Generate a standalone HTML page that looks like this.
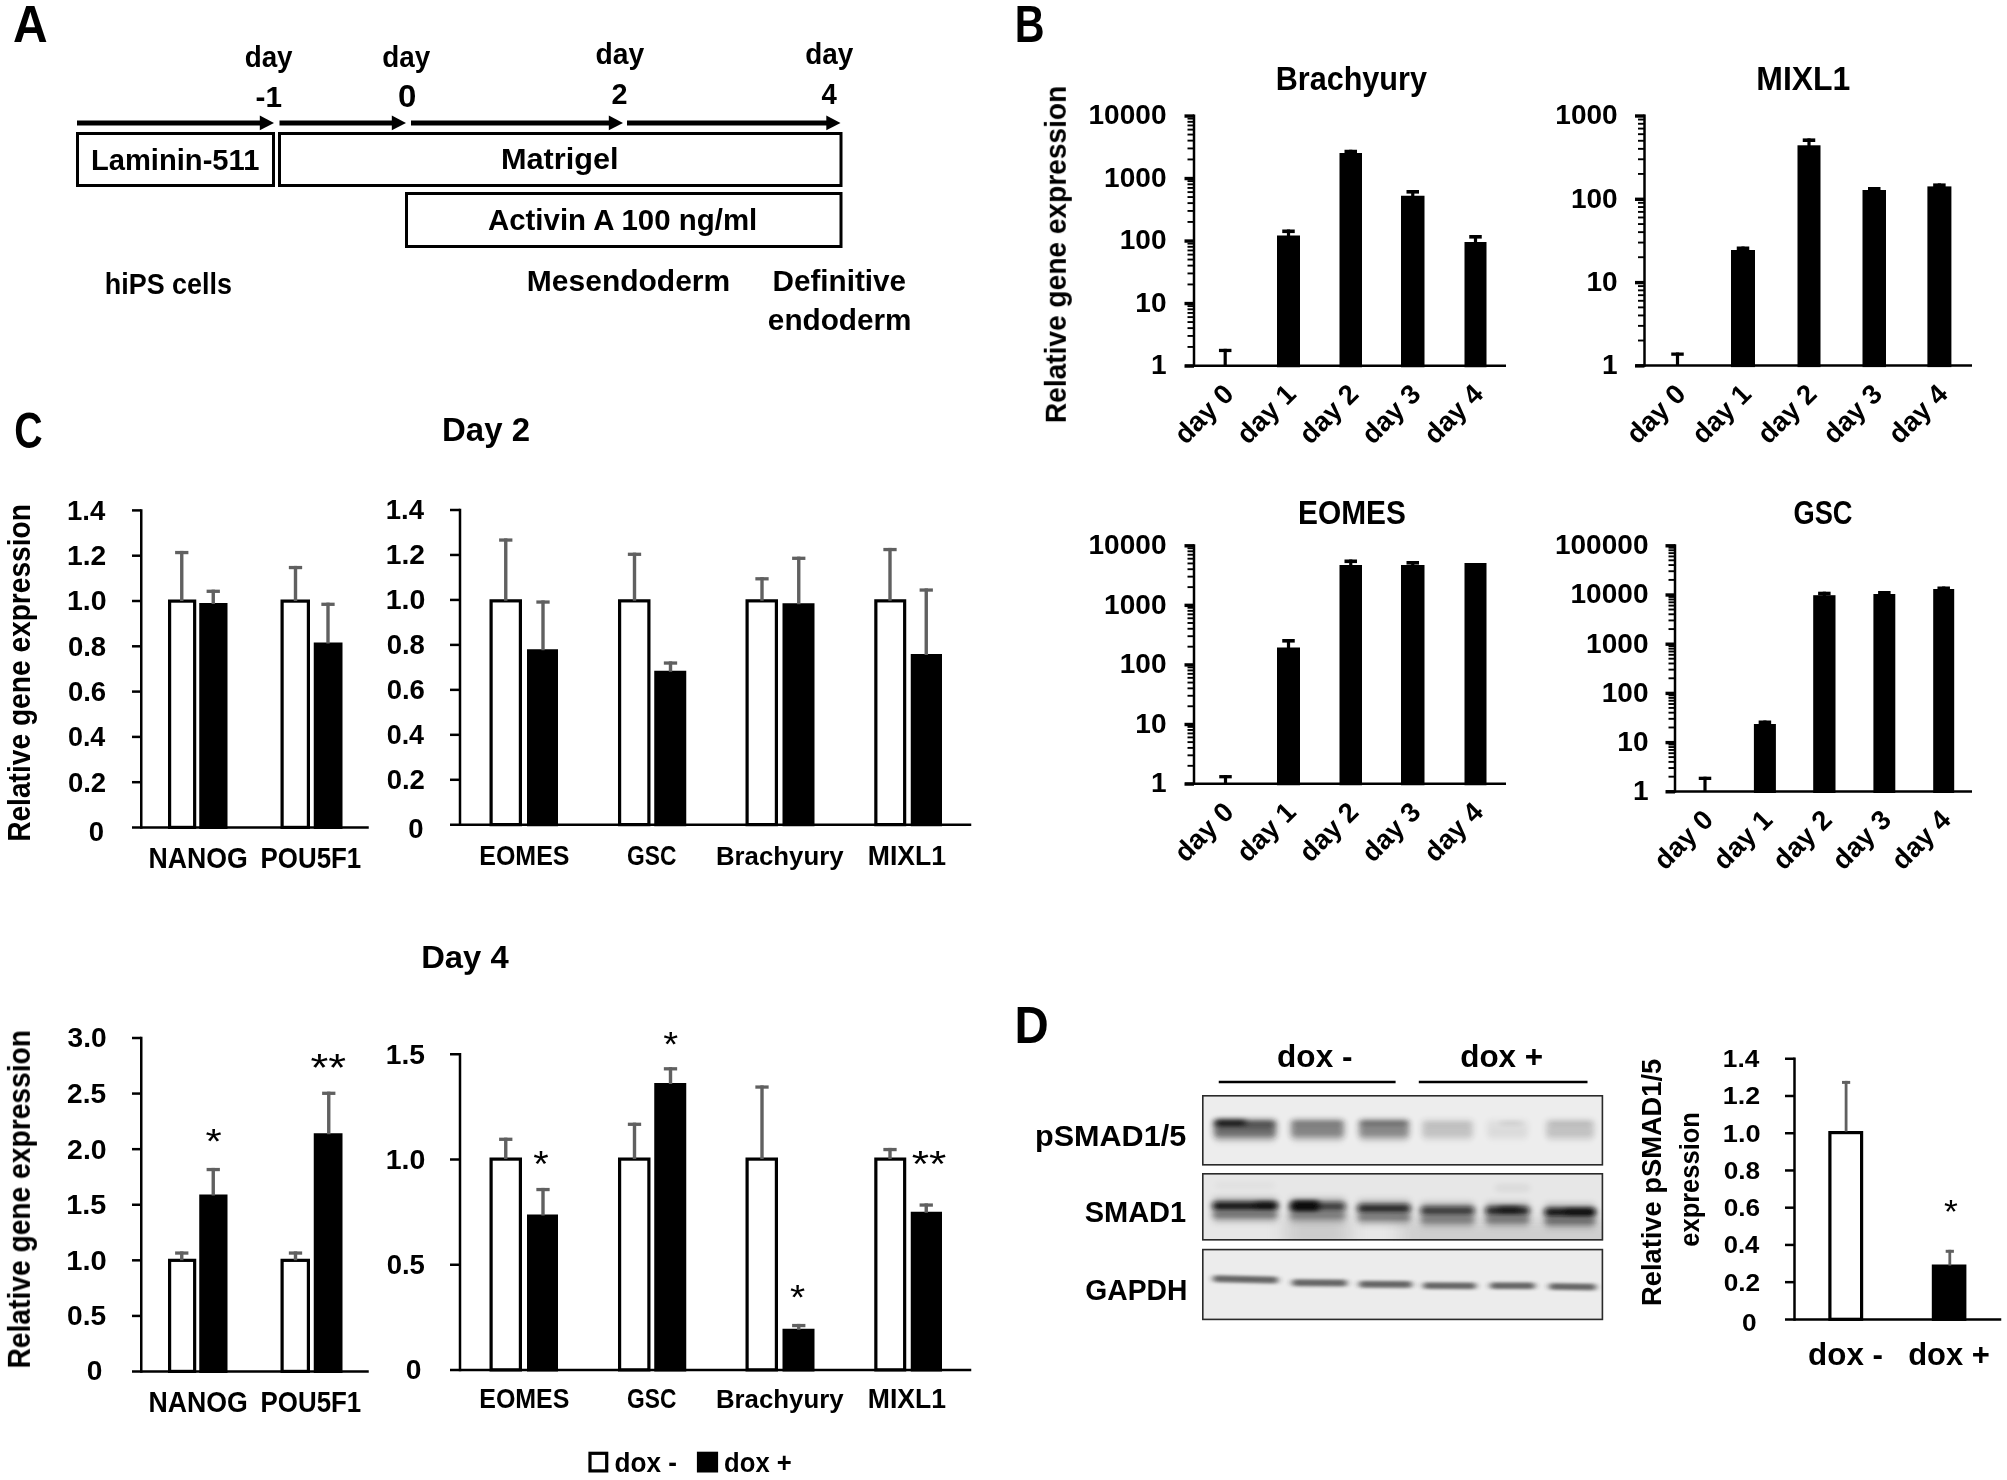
<!DOCTYPE html>
<html lang="en"><head><meta charset="utf-8"><title>Figure</title>
<style>
html,body{margin:0;padding:0;background:#fff;}
body{width:2007px;height:1480px;overflow:hidden;}
svg{display:block;}
text{font-family:"Liberation Sans", Arial, sans-serif;}
</style></head><body>
<svg width="2007" height="1480" viewBox="0 0 2007 1480">
<defs>
<filter id="b1" x="-20%" y="-100%" width="140%" height="300%"><feGaussianBlur stdDeviation="2.2 1.6"/></filter>
<filter id="b2" x="-20%" y="-100%" width="140%" height="300%"><feGaussianBlur stdDeviation="3 1.5"/></filter>
<filter id="b3" x="-20%" y="-100%" width="140%" height="300%"><feGaussianBlur stdDeviation="3 2.5"/></filter>
<filter id="b4" x="-30%" y="-150%" width="160%" height="400%"><feGaussianBlur stdDeviation="3.4 3"/></filter>
<filter id="soft" filterUnits="userSpaceOnUse" x="0" y="0" width="2007" height="1480"><feGaussianBlur stdDeviation="0.55"/></filter>
<filter id="b6" x="-50%" y="-100%" width="200%" height="300%"><feGaussianBlur stdDeviation="9 7"/></filter>
<filter id="b5" x="-30%" y="-150%" width="160%" height="400%"><feGaussianBlur stdDeviation="3.4 1.9"/></filter>
</defs>
<rect x="0" y="0" width="2007" height="1480" fill="#fff"/>
<g filter="url(#soft)">
<text transform="translate(12.95,41.70) scale(0.9349,1)" font-size="51.34" font-family='"Liberation Sans", Arial, sans-serif' font-weight="bold" fill="#000">A</text>
<text transform="translate(244.63,67.00) scale(0.9426,1)" font-size="29.55" font-family='"Liberation Sans", Arial, sans-serif' font-weight="bold" fill="#000">day</text>
<text transform="translate(382.23,67.00) scale(0.9426,1)" font-size="29.55" font-family='"Liberation Sans", Arial, sans-serif' font-weight="bold" fill="#000">day</text>
<text transform="translate(595.42,63.60) scale(0.9654,1)" font-size="29.28" font-family='"Liberation Sans", Arial, sans-serif' font-weight="bold" fill="#000">day</text>
<text transform="translate(805.23,63.60) scale(0.9534,1)" font-size="29.28" font-family='"Liberation Sans", Arial, sans-serif' font-weight="bold" fill="#000">day</text>
<text transform="translate(255.57,107.00) scale(0.9828,1)" font-size="30.29" font-family='"Liberation Sans", Arial, sans-serif' font-weight="bold" fill="#000">-1</text>
<text transform="translate(397.97,107.12) scale(1.0792,1)" font-size="30.61" font-family='"Liberation Sans", Arial, sans-serif' font-weight="bold" fill="#000">0</text>
<text transform="translate(611.50,103.50) scale(0.9830,1)" font-size="29.30" font-family='"Liberation Sans", Arial, sans-serif' font-weight="bold" fill="#000">2</text>
<text transform="translate(821.60,103.50) scale(0.9405,1)" font-size="29.30" font-family='"Liberation Sans", Arial, sans-serif' font-weight="bold" fill="#000">4</text>
<line x1="77.00" y1="122.90" x2="260.80" y2="122.90" stroke="#000" stroke-width="5.0" stroke-linecap="butt"/>
<polygon points="274.00,122.90 259.80,115.50 259.80,130.30" fill="#000"/>
<line x1="279.50" y1="122.90" x2="392.80" y2="122.90" stroke="#000" stroke-width="5.0" stroke-linecap="butt"/>
<polygon points="406.00,122.90 391.80,115.50 391.80,130.30" fill="#000"/>
<line x1="411.00" y1="122.90" x2="609.80" y2="122.90" stroke="#000" stroke-width="5.0" stroke-linecap="butt"/>
<polygon points="623.00,122.90 608.80,115.50 608.80,130.30" fill="#000"/>
<line x1="627.00" y1="122.90" x2="827.30" y2="122.90" stroke="#000" stroke-width="5.0" stroke-linecap="butt"/>
<polygon points="840.50,122.90 826.30,115.50 826.30,130.30" fill="#000"/>
<rect x="77.50" y="133.50" width="196.00" height="52.00" fill="#fff" stroke="#000" stroke-width="3"/>
<rect x="279.50" y="133.50" width="561.50" height="52.00" fill="#fff" stroke="#000" stroke-width="3"/>
<rect x="406.50" y="193.50" width="434.50" height="53.00" fill="#fff" stroke="#000" stroke-width="3"/>
<text transform="translate(90.88,169.50) scale(0.9779,1)" font-size="29.82" font-family='"Liberation Sans", Arial, sans-serif' font-weight="bold" fill="#000">Laminin-511</text>
<text transform="translate(500.98,169.00) scale(1.0519,1)" font-size="29.14" font-family='"Liberation Sans", Arial, sans-serif' font-weight="bold" fill="#000">Matrigel</text>
<text transform="translate(487.94,230.10) scale(0.9873,1)" font-size="29.82" font-family='"Liberation Sans", Arial, sans-serif' font-weight="bold" fill="#000">Activin A 100 ng/ml</text>
<text transform="translate(104.82,294.20) scale(0.9413,1)" font-size="28.60" font-family='"Liberation Sans", Arial, sans-serif' font-weight="bold" fill="#000">hiPS cells</text>
<text transform="translate(526.82,290.90) scale(1.0066,1)" font-size="29.82" font-family='"Liberation Sans", Arial, sans-serif' font-weight="bold" fill="#000">Mesendoderm</text>
<text transform="translate(772.44,290.90) scale(0.9961,1)" font-size="29.82" font-family='"Liberation Sans", Arial, sans-serif' font-weight="bold" fill="#000">Definitive</text>
<text transform="translate(767.87,330.30) scale(1.0252,1)" font-size="29.00" font-family='"Liberation Sans", Arial, sans-serif' font-weight="bold" fill="#000">endoderm</text>
<text transform="translate(1014.72,41.70) scale(0.8040,1)" font-size="51.34" font-family='"Liberation Sans", Arial, sans-serif' font-weight="bold" fill="#000">B</text>
<text transform="translate(1065.80,423.16) rotate(-90) scale(0.9258,1)" font-size="30.37" font-family='"Liberation Sans", Arial, sans-serif' font-weight="bold" fill="#000">Relative gene expression</text>
<rect x="1277.00" y="235.50" width="23.00" height="131.75" fill="#000"/>
<line x1="1288.50" y1="229.50" x2="1288.50" y2="236.50" stroke="#000" stroke-width="3.2" stroke-linecap="butt"/>
<line x1="1282.25" y1="231.30" x2="1294.75" y2="231.30" stroke="#000" stroke-width="3.6" stroke-linecap="butt"/>
<rect x="1339.50" y="153.00" width="22.50" height="214.25" fill="#000"/>
<line x1="1350.75" y1="149.75" x2="1350.75" y2="154.00" stroke="#000" stroke-width="3.2" stroke-linecap="butt"/>
<line x1="1344.50" y1="151.55" x2="1357.00" y2="151.55" stroke="#000" stroke-width="3.6" stroke-linecap="butt"/>
<rect x="1401.00" y="195.75" width="23.50" height="171.50" fill="#000"/>
<line x1="1412.75" y1="190.00" x2="1412.75" y2="196.75" stroke="#000" stroke-width="3.2" stroke-linecap="butt"/>
<line x1="1406.50" y1="191.80" x2="1419.00" y2="191.80" stroke="#000" stroke-width="3.6" stroke-linecap="butt"/>
<rect x="1464.50" y="242.00" width="22.00" height="125.25" fill="#000"/>
<line x1="1475.50" y1="235.00" x2="1475.50" y2="243.00" stroke="#000" stroke-width="3.2" stroke-linecap="butt"/>
<line x1="1469.25" y1="236.80" x2="1481.75" y2="236.80" stroke="#000" stroke-width="3.6" stroke-linecap="butt"/>
<line x1="1225.20" y1="348.80" x2="1225.20" y2="365.75" stroke="#000" stroke-width="3.2" stroke-linecap="butt"/>
<line x1="1218.95" y1="350.45" x2="1231.45" y2="350.45" stroke="#000" stroke-width="3.3" stroke-linecap="butt"/>
<line x1="1194.00" y1="114.50" x2="1194.00" y2="367.00" stroke="#000" stroke-width="2.5" stroke-linecap="butt"/>
<line x1="1185.00" y1="365.75" x2="1506.00" y2="365.75" stroke="#000" stroke-width="2.5" stroke-linecap="butt"/>
<line x1="1184.50" y1="116.05" x2="1194.00" y2="116.05" stroke="#000" stroke-width="3.4" stroke-linecap="butt"/>
<line x1="1187.50" y1="159.44" x2="1194.00" y2="159.44" stroke="#000" stroke-width="1.9" stroke-linecap="butt"/>
<line x1="1187.50" y1="148.43" x2="1194.00" y2="148.43" stroke="#000" stroke-width="1.9" stroke-linecap="butt"/>
<line x1="1187.50" y1="140.62" x2="1194.00" y2="140.62" stroke="#000" stroke-width="1.9" stroke-linecap="butt"/>
<line x1="1187.50" y1="134.56" x2="1194.00" y2="134.56" stroke="#000" stroke-width="1.9" stroke-linecap="butt"/>
<line x1="1187.50" y1="129.62" x2="1194.00" y2="129.62" stroke="#000" stroke-width="1.9" stroke-linecap="butt"/>
<line x1="1187.50" y1="125.43" x2="1194.00" y2="125.43" stroke="#000" stroke-width="1.9" stroke-linecap="butt"/>
<line x1="1187.50" y1="121.81" x2="1194.00" y2="121.81" stroke="#000" stroke-width="1.9" stroke-linecap="butt"/>
<line x1="1187.50" y1="118.61" x2="1194.00" y2="118.61" stroke="#000" stroke-width="1.9" stroke-linecap="butt"/>
<line x1="1184.50" y1="178.55" x2="1194.00" y2="178.55" stroke="#000" stroke-width="3.4" stroke-linecap="butt"/>
<line x1="1187.50" y1="221.94" x2="1194.00" y2="221.94" stroke="#000" stroke-width="1.9" stroke-linecap="butt"/>
<line x1="1187.50" y1="210.93" x2="1194.00" y2="210.93" stroke="#000" stroke-width="1.9" stroke-linecap="butt"/>
<line x1="1187.50" y1="203.12" x2="1194.00" y2="203.12" stroke="#000" stroke-width="1.9" stroke-linecap="butt"/>
<line x1="1187.50" y1="197.06" x2="1194.00" y2="197.06" stroke="#000" stroke-width="1.9" stroke-linecap="butt"/>
<line x1="1187.50" y1="192.12" x2="1194.00" y2="192.12" stroke="#000" stroke-width="1.9" stroke-linecap="butt"/>
<line x1="1187.50" y1="187.93" x2="1194.00" y2="187.93" stroke="#000" stroke-width="1.9" stroke-linecap="butt"/>
<line x1="1187.50" y1="184.31" x2="1194.00" y2="184.31" stroke="#000" stroke-width="1.9" stroke-linecap="butt"/>
<line x1="1187.50" y1="181.11" x2="1194.00" y2="181.11" stroke="#000" stroke-width="1.9" stroke-linecap="butt"/>
<line x1="1184.50" y1="241.05" x2="1194.00" y2="241.05" stroke="#000" stroke-width="3.4" stroke-linecap="butt"/>
<line x1="1187.50" y1="284.44" x2="1194.00" y2="284.44" stroke="#000" stroke-width="1.9" stroke-linecap="butt"/>
<line x1="1187.50" y1="273.43" x2="1194.00" y2="273.43" stroke="#000" stroke-width="1.9" stroke-linecap="butt"/>
<line x1="1187.50" y1="265.62" x2="1194.00" y2="265.62" stroke="#000" stroke-width="1.9" stroke-linecap="butt"/>
<line x1="1187.50" y1="259.56" x2="1194.00" y2="259.56" stroke="#000" stroke-width="1.9" stroke-linecap="butt"/>
<line x1="1187.50" y1="254.62" x2="1194.00" y2="254.62" stroke="#000" stroke-width="1.9" stroke-linecap="butt"/>
<line x1="1187.50" y1="250.43" x2="1194.00" y2="250.43" stroke="#000" stroke-width="1.9" stroke-linecap="butt"/>
<line x1="1187.50" y1="246.81" x2="1194.00" y2="246.81" stroke="#000" stroke-width="1.9" stroke-linecap="butt"/>
<line x1="1187.50" y1="243.61" x2="1194.00" y2="243.61" stroke="#000" stroke-width="1.9" stroke-linecap="butt"/>
<line x1="1184.50" y1="303.55" x2="1194.00" y2="303.55" stroke="#000" stroke-width="3.4" stroke-linecap="butt"/>
<line x1="1187.50" y1="346.94" x2="1194.00" y2="346.94" stroke="#000" stroke-width="1.9" stroke-linecap="butt"/>
<line x1="1187.50" y1="335.93" x2="1194.00" y2="335.93" stroke="#000" stroke-width="1.9" stroke-linecap="butt"/>
<line x1="1187.50" y1="328.12" x2="1194.00" y2="328.12" stroke="#000" stroke-width="1.9" stroke-linecap="butt"/>
<line x1="1187.50" y1="322.06" x2="1194.00" y2="322.06" stroke="#000" stroke-width="1.9" stroke-linecap="butt"/>
<line x1="1187.50" y1="317.12" x2="1194.00" y2="317.12" stroke="#000" stroke-width="1.9" stroke-linecap="butt"/>
<line x1="1187.50" y1="312.93" x2="1194.00" y2="312.93" stroke="#000" stroke-width="1.9" stroke-linecap="butt"/>
<line x1="1187.50" y1="309.31" x2="1194.00" y2="309.31" stroke="#000" stroke-width="1.9" stroke-linecap="butt"/>
<line x1="1187.50" y1="306.11" x2="1194.00" y2="306.11" stroke="#000" stroke-width="1.9" stroke-linecap="butt"/>
<line x1="1184.50" y1="366.05" x2="1194.00" y2="366.05" stroke="#000" stroke-width="3.4" stroke-linecap="butt"/>
<text transform="translate(1166.50,124.45) scale(1.0200,1)" font-size="27.50" text-anchor="end" font-family='"Liberation Sans", Arial, sans-serif' font-weight="bold" fill="#000">10000</text>
<text transform="translate(1166.50,186.95) scale(1.0200,1)" font-size="27.50" text-anchor="end" font-family='"Liberation Sans", Arial, sans-serif' font-weight="bold" fill="#000">1000</text>
<text transform="translate(1166.50,249.45) scale(1.0200,1)" font-size="27.50" text-anchor="end" font-family='"Liberation Sans", Arial, sans-serif' font-weight="bold" fill="#000">100</text>
<text transform="translate(1166.50,311.95) scale(1.0200,1)" font-size="27.50" text-anchor="end" font-family='"Liberation Sans", Arial, sans-serif' font-weight="bold" fill="#000">10</text>
<text transform="translate(1166.50,374.45) scale(1.0200,1)" font-size="27.50" text-anchor="end" font-family='"Liberation Sans", Arial, sans-serif' font-weight="bold" fill="#000">1</text>
<text transform="translate(1275.69,90.10) scale(0.9058,1)" font-size="33.77" font-family='"Liberation Sans", Arial, sans-serif' font-weight="bold" fill="#000">Brachyury</text>
<text transform="translate(1235.20,395.75) rotate(-45) scale(1.0000,1)" font-size="27.50" text-anchor="end" font-family='"Liberation Sans", Arial, sans-serif' font-weight="bold" fill="#000">day 0</text>
<text transform="translate(1297.60,395.75) rotate(-45) scale(1.0000,1)" font-size="27.50" text-anchor="end" font-family='"Liberation Sans", Arial, sans-serif' font-weight="bold" fill="#000">day 1</text>
<text transform="translate(1360.00,395.75) rotate(-45) scale(1.0000,1)" font-size="27.50" text-anchor="end" font-family='"Liberation Sans", Arial, sans-serif' font-weight="bold" fill="#000">day 2</text>
<text transform="translate(1422.40,395.75) rotate(-45) scale(1.0000,1)" font-size="27.50" text-anchor="end" font-family='"Liberation Sans", Arial, sans-serif' font-weight="bold" fill="#000">day 3</text>
<text transform="translate(1484.80,395.75) rotate(-45) scale(1.0000,1)" font-size="27.50" text-anchor="end" font-family='"Liberation Sans", Arial, sans-serif' font-weight="bold" fill="#000">day 4</text>
<rect x="1731.00" y="250.00" width="24.00" height="117.10" fill="#000"/>
<line x1="1743.00" y1="246.50" x2="1743.00" y2="251.00" stroke="#000" stroke-width="3.2" stroke-linecap="butt"/>
<line x1="1736.75" y1="248.30" x2="1749.25" y2="248.30" stroke="#000" stroke-width="3.6" stroke-linecap="butt"/>
<rect x="1797.50" y="145.30" width="23.00" height="221.80" fill="#000"/>
<line x1="1809.00" y1="138.40" x2="1809.00" y2="146.30" stroke="#000" stroke-width="3.2" stroke-linecap="butt"/>
<line x1="1802.75" y1="140.20" x2="1815.25" y2="140.20" stroke="#000" stroke-width="3.6" stroke-linecap="butt"/>
<rect x="1862.50" y="190.00" width="23.50" height="177.10" fill="#000"/>
<line x1="1874.25" y1="187.00" x2="1874.25" y2="191.00" stroke="#000" stroke-width="3.2" stroke-linecap="butt"/>
<line x1="1868.00" y1="188.80" x2="1880.50" y2="188.80" stroke="#000" stroke-width="3.6" stroke-linecap="butt"/>
<rect x="1927.40" y="186.40" width="24.00" height="180.70" fill="#000"/>
<line x1="1939.40" y1="183.40" x2="1939.40" y2="187.40" stroke="#000" stroke-width="3.2" stroke-linecap="butt"/>
<line x1="1933.15" y1="185.20" x2="1945.65" y2="185.20" stroke="#000" stroke-width="3.6" stroke-linecap="butt"/>
<line x1="1677.50" y1="352.50" x2="1677.50" y2="365.60" stroke="#000" stroke-width="3.2" stroke-linecap="butt"/>
<line x1="1671.25" y1="354.15" x2="1683.75" y2="354.15" stroke="#000" stroke-width="3.3" stroke-linecap="butt"/>
<line x1="1644.50" y1="114.45" x2="1644.50" y2="366.85" stroke="#000" stroke-width="2.5" stroke-linecap="butt"/>
<line x1="1635.50" y1="365.60" x2="1972.00" y2="365.60" stroke="#000" stroke-width="2.5" stroke-linecap="butt"/>
<line x1="1635.00" y1="116.00" x2="1644.50" y2="116.00" stroke="#000" stroke-width="3.4" stroke-linecap="butt"/>
<line x1="1638.00" y1="173.92" x2="1644.50" y2="173.92" stroke="#000" stroke-width="1.9" stroke-linecap="butt"/>
<line x1="1638.00" y1="159.26" x2="1644.50" y2="159.26" stroke="#000" stroke-width="1.9" stroke-linecap="butt"/>
<line x1="1638.00" y1="148.85" x2="1644.50" y2="148.85" stroke="#000" stroke-width="1.9" stroke-linecap="butt"/>
<line x1="1638.00" y1="140.78" x2="1644.50" y2="140.78" stroke="#000" stroke-width="1.9" stroke-linecap="butt"/>
<line x1="1638.00" y1="134.18" x2="1644.50" y2="134.18" stroke="#000" stroke-width="1.9" stroke-linecap="butt"/>
<line x1="1638.00" y1="128.60" x2="1644.50" y2="128.60" stroke="#000" stroke-width="1.9" stroke-linecap="butt"/>
<line x1="1638.00" y1="123.77" x2="1644.50" y2="123.77" stroke="#000" stroke-width="1.9" stroke-linecap="butt"/>
<line x1="1638.00" y1="119.51" x2="1644.50" y2="119.51" stroke="#000" stroke-width="1.9" stroke-linecap="butt"/>
<line x1="1635.00" y1="199.30" x2="1644.50" y2="199.30" stroke="#000" stroke-width="3.4" stroke-linecap="butt"/>
<line x1="1638.00" y1="257.22" x2="1644.50" y2="257.22" stroke="#000" stroke-width="1.9" stroke-linecap="butt"/>
<line x1="1638.00" y1="242.56" x2="1644.50" y2="242.56" stroke="#000" stroke-width="1.9" stroke-linecap="butt"/>
<line x1="1638.00" y1="232.15" x2="1644.50" y2="232.15" stroke="#000" stroke-width="1.9" stroke-linecap="butt"/>
<line x1="1638.00" y1="224.08" x2="1644.50" y2="224.08" stroke="#000" stroke-width="1.9" stroke-linecap="butt"/>
<line x1="1638.00" y1="217.48" x2="1644.50" y2="217.48" stroke="#000" stroke-width="1.9" stroke-linecap="butt"/>
<line x1="1638.00" y1="211.90" x2="1644.50" y2="211.90" stroke="#000" stroke-width="1.9" stroke-linecap="butt"/>
<line x1="1638.00" y1="207.07" x2="1644.50" y2="207.07" stroke="#000" stroke-width="1.9" stroke-linecap="butt"/>
<line x1="1638.00" y1="202.81" x2="1644.50" y2="202.81" stroke="#000" stroke-width="1.9" stroke-linecap="butt"/>
<line x1="1635.00" y1="282.60" x2="1644.50" y2="282.60" stroke="#000" stroke-width="3.4" stroke-linecap="butt"/>
<line x1="1638.00" y1="340.52" x2="1644.50" y2="340.52" stroke="#000" stroke-width="1.9" stroke-linecap="butt"/>
<line x1="1638.00" y1="325.86" x2="1644.50" y2="325.86" stroke="#000" stroke-width="1.9" stroke-linecap="butt"/>
<line x1="1638.00" y1="315.45" x2="1644.50" y2="315.45" stroke="#000" stroke-width="1.9" stroke-linecap="butt"/>
<line x1="1638.00" y1="307.38" x2="1644.50" y2="307.38" stroke="#000" stroke-width="1.9" stroke-linecap="butt"/>
<line x1="1638.00" y1="300.78" x2="1644.50" y2="300.78" stroke="#000" stroke-width="1.9" stroke-linecap="butt"/>
<line x1="1638.00" y1="295.20" x2="1644.50" y2="295.20" stroke="#000" stroke-width="1.9" stroke-linecap="butt"/>
<line x1="1638.00" y1="290.37" x2="1644.50" y2="290.37" stroke="#000" stroke-width="1.9" stroke-linecap="butt"/>
<line x1="1638.00" y1="286.11" x2="1644.50" y2="286.11" stroke="#000" stroke-width="1.9" stroke-linecap="butt"/>
<line x1="1635.00" y1="365.90" x2="1644.50" y2="365.90" stroke="#000" stroke-width="3.4" stroke-linecap="butt"/>
<text transform="translate(1617.70,124.40) scale(1.0200,1)" font-size="27.50" text-anchor="end" font-family='"Liberation Sans", Arial, sans-serif' font-weight="bold" fill="#000">1000</text>
<text transform="translate(1617.70,207.70) scale(1.0200,1)" font-size="27.50" text-anchor="end" font-family='"Liberation Sans", Arial, sans-serif' font-weight="bold" fill="#000">100</text>
<text transform="translate(1617.70,291.00) scale(1.0200,1)" font-size="27.50" text-anchor="end" font-family='"Liberation Sans", Arial, sans-serif' font-weight="bold" fill="#000">10</text>
<text transform="translate(1617.70,374.30) scale(1.0200,1)" font-size="27.50" text-anchor="end" font-family='"Liberation Sans", Arial, sans-serif' font-weight="bold" fill="#000">1</text>
<text transform="translate(1756.30,90.20) scale(0.9560,1)" font-size="33.42" font-family='"Liberation Sans", Arial, sans-serif' font-weight="bold" fill="#000">MIXL1</text>
<text transform="translate(1687.25,395.60) rotate(-45) scale(1.0000,1)" font-size="27.50" text-anchor="end" font-family='"Liberation Sans", Arial, sans-serif' font-weight="bold" fill="#000">day 0</text>
<text transform="translate(1752.75,395.60) rotate(-45) scale(1.0000,1)" font-size="27.50" text-anchor="end" font-family='"Liberation Sans", Arial, sans-serif' font-weight="bold" fill="#000">day 1</text>
<text transform="translate(1818.25,395.60) rotate(-45) scale(1.0000,1)" font-size="27.50" text-anchor="end" font-family='"Liberation Sans", Arial, sans-serif' font-weight="bold" fill="#000">day 2</text>
<text transform="translate(1883.75,395.60) rotate(-45) scale(1.0000,1)" font-size="27.50" text-anchor="end" font-family='"Liberation Sans", Arial, sans-serif' font-weight="bold" fill="#000">day 3</text>
<text transform="translate(1949.25,395.60) rotate(-45) scale(1.0000,1)" font-size="27.50" text-anchor="end" font-family='"Liberation Sans", Arial, sans-serif' font-weight="bold" fill="#000">day 4</text>
<rect x="1277.00" y="647.50" width="23.00" height="137.75" fill="#000"/>
<line x1="1288.50" y1="639.00" x2="1288.50" y2="648.50" stroke="#000" stroke-width="3.2" stroke-linecap="butt"/>
<line x1="1282.25" y1="640.80" x2="1294.75" y2="640.80" stroke="#000" stroke-width="3.6" stroke-linecap="butt"/>
<rect x="1339.50" y="565.00" width="22.50" height="220.25" fill="#000"/>
<line x1="1350.75" y1="559.50" x2="1350.75" y2="566.00" stroke="#000" stroke-width="3.2" stroke-linecap="butt"/>
<line x1="1344.50" y1="561.30" x2="1357.00" y2="561.30" stroke="#000" stroke-width="3.6" stroke-linecap="butt"/>
<rect x="1401.00" y="565.00" width="23.50" height="220.25" fill="#000"/>
<line x1="1412.75" y1="561.00" x2="1412.75" y2="566.00" stroke="#000" stroke-width="3.2" stroke-linecap="butt"/>
<line x1="1406.50" y1="562.80" x2="1419.00" y2="562.80" stroke="#000" stroke-width="3.6" stroke-linecap="butt"/>
<rect x="1464.50" y="563.00" width="22.00" height="222.25" fill="#000"/>
<line x1="1225.50" y1="775.05" x2="1225.50" y2="783.75" stroke="#000" stroke-width="3.2" stroke-linecap="butt"/>
<line x1="1219.25" y1="776.70" x2="1231.75" y2="776.70" stroke="#000" stroke-width="3.3" stroke-linecap="butt"/>
<line x1="1194.00" y1="544.25" x2="1194.00" y2="785.00" stroke="#000" stroke-width="2.5" stroke-linecap="butt"/>
<line x1="1185.00" y1="783.75" x2="1506.00" y2="783.75" stroke="#000" stroke-width="2.5" stroke-linecap="butt"/>
<line x1="1184.50" y1="545.80" x2="1194.00" y2="545.80" stroke="#000" stroke-width="3.4" stroke-linecap="butt"/>
<line x1="1187.50" y1="587.13" x2="1194.00" y2="587.13" stroke="#000" stroke-width="1.9" stroke-linecap="butt"/>
<line x1="1187.50" y1="576.64" x2="1194.00" y2="576.64" stroke="#000" stroke-width="1.9" stroke-linecap="butt"/>
<line x1="1187.50" y1="569.20" x2="1194.00" y2="569.20" stroke="#000" stroke-width="1.9" stroke-linecap="butt"/>
<line x1="1187.50" y1="563.43" x2="1194.00" y2="563.43" stroke="#000" stroke-width="1.9" stroke-linecap="butt"/>
<line x1="1187.50" y1="558.71" x2="1194.00" y2="558.71" stroke="#000" stroke-width="1.9" stroke-linecap="butt"/>
<line x1="1187.50" y1="554.73" x2="1194.00" y2="554.73" stroke="#000" stroke-width="1.9" stroke-linecap="butt"/>
<line x1="1187.50" y1="551.27" x2="1194.00" y2="551.27" stroke="#000" stroke-width="1.9" stroke-linecap="butt"/>
<line x1="1187.50" y1="548.23" x2="1194.00" y2="548.23" stroke="#000" stroke-width="1.9" stroke-linecap="butt"/>
<line x1="1184.50" y1="605.36" x2="1194.00" y2="605.36" stroke="#000" stroke-width="3.4" stroke-linecap="butt"/>
<line x1="1187.50" y1="646.69" x2="1194.00" y2="646.69" stroke="#000" stroke-width="1.9" stroke-linecap="butt"/>
<line x1="1187.50" y1="636.21" x2="1194.00" y2="636.21" stroke="#000" stroke-width="1.9" stroke-linecap="butt"/>
<line x1="1187.50" y1="628.76" x2="1194.00" y2="628.76" stroke="#000" stroke-width="1.9" stroke-linecap="butt"/>
<line x1="1187.50" y1="622.99" x2="1194.00" y2="622.99" stroke="#000" stroke-width="1.9" stroke-linecap="butt"/>
<line x1="1187.50" y1="618.28" x2="1194.00" y2="618.28" stroke="#000" stroke-width="1.9" stroke-linecap="butt"/>
<line x1="1187.50" y1="614.29" x2="1194.00" y2="614.29" stroke="#000" stroke-width="1.9" stroke-linecap="butt"/>
<line x1="1187.50" y1="610.83" x2="1194.00" y2="610.83" stroke="#000" stroke-width="1.9" stroke-linecap="butt"/>
<line x1="1187.50" y1="607.79" x2="1194.00" y2="607.79" stroke="#000" stroke-width="1.9" stroke-linecap="butt"/>
<line x1="1184.50" y1="664.92" x2="1194.00" y2="664.92" stroke="#000" stroke-width="3.4" stroke-linecap="butt"/>
<line x1="1187.50" y1="706.26" x2="1194.00" y2="706.26" stroke="#000" stroke-width="1.9" stroke-linecap="butt"/>
<line x1="1187.50" y1="695.77" x2="1194.00" y2="695.77" stroke="#000" stroke-width="1.9" stroke-linecap="butt"/>
<line x1="1187.50" y1="688.33" x2="1194.00" y2="688.33" stroke="#000" stroke-width="1.9" stroke-linecap="butt"/>
<line x1="1187.50" y1="682.56" x2="1194.00" y2="682.56" stroke="#000" stroke-width="1.9" stroke-linecap="butt"/>
<line x1="1187.50" y1="677.84" x2="1194.00" y2="677.84" stroke="#000" stroke-width="1.9" stroke-linecap="butt"/>
<line x1="1187.50" y1="673.85" x2="1194.00" y2="673.85" stroke="#000" stroke-width="1.9" stroke-linecap="butt"/>
<line x1="1187.50" y1="670.40" x2="1194.00" y2="670.40" stroke="#000" stroke-width="1.9" stroke-linecap="butt"/>
<line x1="1187.50" y1="667.35" x2="1194.00" y2="667.35" stroke="#000" stroke-width="1.9" stroke-linecap="butt"/>
<line x1="1184.50" y1="724.49" x2="1194.00" y2="724.49" stroke="#000" stroke-width="3.4" stroke-linecap="butt"/>
<line x1="1187.50" y1="765.82" x2="1194.00" y2="765.82" stroke="#000" stroke-width="1.9" stroke-linecap="butt"/>
<line x1="1187.50" y1="755.33" x2="1194.00" y2="755.33" stroke="#000" stroke-width="1.9" stroke-linecap="butt"/>
<line x1="1187.50" y1="747.89" x2="1194.00" y2="747.89" stroke="#000" stroke-width="1.9" stroke-linecap="butt"/>
<line x1="1187.50" y1="742.12" x2="1194.00" y2="742.12" stroke="#000" stroke-width="1.9" stroke-linecap="butt"/>
<line x1="1187.50" y1="737.40" x2="1194.00" y2="737.40" stroke="#000" stroke-width="1.9" stroke-linecap="butt"/>
<line x1="1187.50" y1="733.41" x2="1194.00" y2="733.41" stroke="#000" stroke-width="1.9" stroke-linecap="butt"/>
<line x1="1187.50" y1="729.96" x2="1194.00" y2="729.96" stroke="#000" stroke-width="1.9" stroke-linecap="butt"/>
<line x1="1187.50" y1="726.91" x2="1194.00" y2="726.91" stroke="#000" stroke-width="1.9" stroke-linecap="butt"/>
<line x1="1184.50" y1="784.05" x2="1194.00" y2="784.05" stroke="#000" stroke-width="3.4" stroke-linecap="butt"/>
<text transform="translate(1166.50,554.20) scale(1.0200,1)" font-size="27.50" text-anchor="end" font-family='"Liberation Sans", Arial, sans-serif' font-weight="bold" fill="#000">10000</text>
<text transform="translate(1166.50,613.76) scale(1.0200,1)" font-size="27.50" text-anchor="end" font-family='"Liberation Sans", Arial, sans-serif' font-weight="bold" fill="#000">1000</text>
<text transform="translate(1166.50,673.33) scale(1.0200,1)" font-size="27.50" text-anchor="end" font-family='"Liberation Sans", Arial, sans-serif' font-weight="bold" fill="#000">100</text>
<text transform="translate(1166.50,732.89) scale(1.0200,1)" font-size="27.50" text-anchor="end" font-family='"Liberation Sans", Arial, sans-serif' font-weight="bold" fill="#000">10</text>
<text transform="translate(1166.50,792.45) scale(1.0200,1)" font-size="27.50" text-anchor="end" font-family='"Liberation Sans", Arial, sans-serif' font-weight="bold" fill="#000">1</text>
<text transform="translate(1298.03,523.80) scale(0.9089,1)" font-size="32.85" font-family='"Liberation Sans", Arial, sans-serif' font-weight="bold" fill="#000">EOMES</text>
<text transform="translate(1235.20,813.75) rotate(-45) scale(1.0000,1)" font-size="27.50" text-anchor="end" font-family='"Liberation Sans", Arial, sans-serif' font-weight="bold" fill="#000">day 0</text>
<text transform="translate(1297.60,813.75) rotate(-45) scale(1.0000,1)" font-size="27.50" text-anchor="end" font-family='"Liberation Sans", Arial, sans-serif' font-weight="bold" fill="#000">day 1</text>
<text transform="translate(1360.00,813.75) rotate(-45) scale(1.0000,1)" font-size="27.50" text-anchor="end" font-family='"Liberation Sans", Arial, sans-serif' font-weight="bold" fill="#000">day 2</text>
<text transform="translate(1422.40,813.75) rotate(-45) scale(1.0000,1)" font-size="27.50" text-anchor="end" font-family='"Liberation Sans", Arial, sans-serif' font-weight="bold" fill="#000">day 3</text>
<text transform="translate(1484.80,813.75) rotate(-45) scale(1.0000,1)" font-size="27.50" text-anchor="end" font-family='"Liberation Sans", Arial, sans-serif' font-weight="bold" fill="#000">day 4</text>
<rect x="1753.90" y="724.00" width="22.00" height="69.00" fill="#000"/>
<line x1="1764.90" y1="720.50" x2="1764.90" y2="725.00" stroke="#000" stroke-width="3.2" stroke-linecap="butt"/>
<line x1="1758.65" y1="722.30" x2="1771.15" y2="722.30" stroke="#000" stroke-width="3.6" stroke-linecap="butt"/>
<rect x="1813.20" y="595.20" width="22.30" height="197.80" fill="#000"/>
<line x1="1824.35" y1="591.70" x2="1824.35" y2="596.20" stroke="#000" stroke-width="3.2" stroke-linecap="butt"/>
<line x1="1818.10" y1="593.50" x2="1830.60" y2="593.50" stroke="#000" stroke-width="3.6" stroke-linecap="butt"/>
<rect x="1873.40" y="594.00" width="21.90" height="199.00" fill="#000"/>
<line x1="1884.35" y1="591.00" x2="1884.35" y2="595.00" stroke="#000" stroke-width="3.2" stroke-linecap="butt"/>
<line x1="1878.10" y1="592.80" x2="1890.60" y2="592.80" stroke="#000" stroke-width="3.6" stroke-linecap="butt"/>
<rect x="1933.20" y="589.00" width="21.00" height="204.00" fill="#000"/>
<line x1="1943.70" y1="586.50" x2="1943.70" y2="590.00" stroke="#000" stroke-width="3.2" stroke-linecap="butt"/>
<line x1="1937.45" y1="588.30" x2="1949.95" y2="588.30" stroke="#000" stroke-width="3.6" stroke-linecap="butt"/>
<line x1="1705.00" y1="776.70" x2="1705.00" y2="791.50" stroke="#000" stroke-width="3.2" stroke-linecap="butt"/>
<line x1="1698.75" y1="778.35" x2="1711.25" y2="778.35" stroke="#000" stroke-width="3.3" stroke-linecap="butt"/>
<line x1="1675.00" y1="544.25" x2="1675.00" y2="792.75" stroke="#000" stroke-width="2.5" stroke-linecap="butt"/>
<line x1="1666.00" y1="791.50" x2="1972.00" y2="791.50" stroke="#000" stroke-width="2.5" stroke-linecap="butt"/>
<line x1="1665.50" y1="545.80" x2="1675.00" y2="545.80" stroke="#000" stroke-width="3.4" stroke-linecap="butt"/>
<line x1="1668.50" y1="579.89" x2="1675.00" y2="579.89" stroke="#000" stroke-width="1.9" stroke-linecap="butt"/>
<line x1="1668.50" y1="571.23" x2="1675.00" y2="571.23" stroke="#000" stroke-width="1.9" stroke-linecap="butt"/>
<line x1="1668.50" y1="565.08" x2="1675.00" y2="565.08" stroke="#000" stroke-width="1.9" stroke-linecap="butt"/>
<line x1="1668.50" y1="560.31" x2="1675.00" y2="560.31" stroke="#000" stroke-width="1.9" stroke-linecap="butt"/>
<line x1="1668.50" y1="556.41" x2="1675.00" y2="556.41" stroke="#000" stroke-width="1.9" stroke-linecap="butt"/>
<line x1="1668.50" y1="553.12" x2="1675.00" y2="553.12" stroke="#000" stroke-width="1.9" stroke-linecap="butt"/>
<line x1="1668.50" y1="550.27" x2="1675.00" y2="550.27" stroke="#000" stroke-width="1.9" stroke-linecap="butt"/>
<line x1="1668.50" y1="547.75" x2="1675.00" y2="547.75" stroke="#000" stroke-width="1.9" stroke-linecap="butt"/>
<line x1="1665.50" y1="595.00" x2="1675.00" y2="595.00" stroke="#000" stroke-width="3.4" stroke-linecap="butt"/>
<line x1="1668.50" y1="629.09" x2="1675.00" y2="629.09" stroke="#000" stroke-width="1.9" stroke-linecap="butt"/>
<line x1="1668.50" y1="620.43" x2="1675.00" y2="620.43" stroke="#000" stroke-width="1.9" stroke-linecap="butt"/>
<line x1="1668.50" y1="614.28" x2="1675.00" y2="614.28" stroke="#000" stroke-width="1.9" stroke-linecap="butt"/>
<line x1="1668.50" y1="609.51" x2="1675.00" y2="609.51" stroke="#000" stroke-width="1.9" stroke-linecap="butt"/>
<line x1="1668.50" y1="605.61" x2="1675.00" y2="605.61" stroke="#000" stroke-width="1.9" stroke-linecap="butt"/>
<line x1="1668.50" y1="602.32" x2="1675.00" y2="602.32" stroke="#000" stroke-width="1.9" stroke-linecap="butt"/>
<line x1="1668.50" y1="599.47" x2="1675.00" y2="599.47" stroke="#000" stroke-width="1.9" stroke-linecap="butt"/>
<line x1="1668.50" y1="596.95" x2="1675.00" y2="596.95" stroke="#000" stroke-width="1.9" stroke-linecap="butt"/>
<line x1="1665.50" y1="644.20" x2="1675.00" y2="644.20" stroke="#000" stroke-width="3.4" stroke-linecap="butt"/>
<line x1="1668.50" y1="678.29" x2="1675.00" y2="678.29" stroke="#000" stroke-width="1.9" stroke-linecap="butt"/>
<line x1="1668.50" y1="669.63" x2="1675.00" y2="669.63" stroke="#000" stroke-width="1.9" stroke-linecap="butt"/>
<line x1="1668.50" y1="663.48" x2="1675.00" y2="663.48" stroke="#000" stroke-width="1.9" stroke-linecap="butt"/>
<line x1="1668.50" y1="658.71" x2="1675.00" y2="658.71" stroke="#000" stroke-width="1.9" stroke-linecap="butt"/>
<line x1="1668.50" y1="654.81" x2="1675.00" y2="654.81" stroke="#000" stroke-width="1.9" stroke-linecap="butt"/>
<line x1="1668.50" y1="651.52" x2="1675.00" y2="651.52" stroke="#000" stroke-width="1.9" stroke-linecap="butt"/>
<line x1="1668.50" y1="648.67" x2="1675.00" y2="648.67" stroke="#000" stroke-width="1.9" stroke-linecap="butt"/>
<line x1="1668.50" y1="646.15" x2="1675.00" y2="646.15" stroke="#000" stroke-width="1.9" stroke-linecap="butt"/>
<line x1="1665.50" y1="693.40" x2="1675.00" y2="693.40" stroke="#000" stroke-width="3.4" stroke-linecap="butt"/>
<line x1="1668.50" y1="727.49" x2="1675.00" y2="727.49" stroke="#000" stroke-width="1.9" stroke-linecap="butt"/>
<line x1="1668.50" y1="718.83" x2="1675.00" y2="718.83" stroke="#000" stroke-width="1.9" stroke-linecap="butt"/>
<line x1="1668.50" y1="712.68" x2="1675.00" y2="712.68" stroke="#000" stroke-width="1.9" stroke-linecap="butt"/>
<line x1="1668.50" y1="707.91" x2="1675.00" y2="707.91" stroke="#000" stroke-width="1.9" stroke-linecap="butt"/>
<line x1="1668.50" y1="704.01" x2="1675.00" y2="704.01" stroke="#000" stroke-width="1.9" stroke-linecap="butt"/>
<line x1="1668.50" y1="700.72" x2="1675.00" y2="700.72" stroke="#000" stroke-width="1.9" stroke-linecap="butt"/>
<line x1="1668.50" y1="697.87" x2="1675.00" y2="697.87" stroke="#000" stroke-width="1.9" stroke-linecap="butt"/>
<line x1="1668.50" y1="695.35" x2="1675.00" y2="695.35" stroke="#000" stroke-width="1.9" stroke-linecap="butt"/>
<line x1="1665.50" y1="742.60" x2="1675.00" y2="742.60" stroke="#000" stroke-width="3.4" stroke-linecap="butt"/>
<line x1="1668.50" y1="776.69" x2="1675.00" y2="776.69" stroke="#000" stroke-width="1.9" stroke-linecap="butt"/>
<line x1="1668.50" y1="768.03" x2="1675.00" y2="768.03" stroke="#000" stroke-width="1.9" stroke-linecap="butt"/>
<line x1="1668.50" y1="761.88" x2="1675.00" y2="761.88" stroke="#000" stroke-width="1.9" stroke-linecap="butt"/>
<line x1="1668.50" y1="757.11" x2="1675.00" y2="757.11" stroke="#000" stroke-width="1.9" stroke-linecap="butt"/>
<line x1="1668.50" y1="753.21" x2="1675.00" y2="753.21" stroke="#000" stroke-width="1.9" stroke-linecap="butt"/>
<line x1="1668.50" y1="749.92" x2="1675.00" y2="749.92" stroke="#000" stroke-width="1.9" stroke-linecap="butt"/>
<line x1="1668.50" y1="747.07" x2="1675.00" y2="747.07" stroke="#000" stroke-width="1.9" stroke-linecap="butt"/>
<line x1="1668.50" y1="744.55" x2="1675.00" y2="744.55" stroke="#000" stroke-width="1.9" stroke-linecap="butt"/>
<line x1="1665.50" y1="791.80" x2="1675.00" y2="791.80" stroke="#000" stroke-width="3.4" stroke-linecap="butt"/>
<text transform="translate(1648.50,554.20) scale(1.0200,1)" font-size="27.50" text-anchor="end" font-family='"Liberation Sans", Arial, sans-serif' font-weight="bold" fill="#000">100000</text>
<text transform="translate(1648.50,603.40) scale(1.0200,1)" font-size="27.50" text-anchor="end" font-family='"Liberation Sans", Arial, sans-serif' font-weight="bold" fill="#000">10000</text>
<text transform="translate(1648.50,652.60) scale(1.0200,1)" font-size="27.50" text-anchor="end" font-family='"Liberation Sans", Arial, sans-serif' font-weight="bold" fill="#000">1000</text>
<text transform="translate(1648.50,701.80) scale(1.0200,1)" font-size="27.50" text-anchor="end" font-family='"Liberation Sans", Arial, sans-serif' font-weight="bold" fill="#000">100</text>
<text transform="translate(1648.50,751.00) scale(1.0200,1)" font-size="27.50" text-anchor="end" font-family='"Liberation Sans", Arial, sans-serif' font-weight="bold" fill="#000">10</text>
<text transform="translate(1648.50,800.20) scale(1.0200,1)" font-size="27.50" text-anchor="end" font-family='"Liberation Sans", Arial, sans-serif' font-weight="bold" fill="#000">1</text>
<text transform="translate(1793.45,523.79) scale(0.8302,1)" font-size="32.83" font-family='"Liberation Sans", Arial, sans-serif' font-weight="bold" fill="#000">GSC</text>
<text transform="translate(1714.70,821.50) rotate(-45) scale(1.0000,1)" font-size="27.50" text-anchor="end" font-family='"Liberation Sans", Arial, sans-serif' font-weight="bold" fill="#000">day 0</text>
<text transform="translate(1774.10,821.50) rotate(-45) scale(1.0000,1)" font-size="27.50" text-anchor="end" font-family='"Liberation Sans", Arial, sans-serif' font-weight="bold" fill="#000">day 1</text>
<text transform="translate(1833.50,821.50) rotate(-45) scale(1.0000,1)" font-size="27.50" text-anchor="end" font-family='"Liberation Sans", Arial, sans-serif' font-weight="bold" fill="#000">day 2</text>
<text transform="translate(1892.90,821.50) rotate(-45) scale(1.0000,1)" font-size="27.50" text-anchor="end" font-family='"Liberation Sans", Arial, sans-serif' font-weight="bold" fill="#000">day 3</text>
<text transform="translate(1952.30,821.50) rotate(-45) scale(1.0000,1)" font-size="27.50" text-anchor="end" font-family='"Liberation Sans", Arial, sans-serif' font-weight="bold" fill="#000">day 4</text>
<text transform="translate(14.17,447.83) scale(0.8001,1)" font-size="49.11" font-family='"Liberation Sans", Arial, sans-serif' font-weight="bold" fill="#000">C</text>
<text transform="translate(30.20,841.86) rotate(-90) scale(0.9190,1)" font-size="30.64" font-family='"Liberation Sans", Arial, sans-serif' font-weight="bold" fill="#000">Relative gene expression</text>
<rect x="169.60" y="601.10" width="25.05" height="226.30" fill="#fff" stroke="#000" stroke-width="3.2"/>
<line x1="181.75" y1="550.90" x2="181.75" y2="601.00" stroke="#606060" stroke-width="3.4" stroke-linecap="butt"/>
<line x1="175.10" y1="552.55" x2="188.40" y2="552.55" stroke="#606060" stroke-width="3.3" stroke-linecap="butt"/>
<rect x="199.25" y="603.00" width="28.25" height="226.00" fill="#000"/>
<line x1="213.25" y1="589.65" x2="213.25" y2="604.00" stroke="#606060" stroke-width="3.4" stroke-linecap="butt"/>
<line x1="206.60" y1="591.30" x2="219.90" y2="591.30" stroke="#606060" stroke-width="3.3" stroke-linecap="butt"/>
<rect x="282.10" y="601.10" width="26.30" height="226.30" fill="#fff" stroke="#000" stroke-width="3.2"/>
<line x1="295.50" y1="565.90" x2="295.50" y2="601.00" stroke="#606060" stroke-width="3.4" stroke-linecap="butt"/>
<line x1="288.85" y1="567.55" x2="302.15" y2="567.55" stroke="#606060" stroke-width="3.3" stroke-linecap="butt"/>
<rect x="313.75" y="642.50" width="28.75" height="186.50" fill="#000"/>
<line x1="328.00" y1="602.65" x2="328.00" y2="643.50" stroke="#606060" stroke-width="3.4" stroke-linecap="butt"/>
<line x1="321.35" y1="604.30" x2="334.65" y2="604.30" stroke="#606060" stroke-width="3.3" stroke-linecap="butt"/>
<line x1="141.25" y1="509.15" x2="141.25" y2="828.75" stroke="#000" stroke-width="2.5" stroke-linecap="butt"/>
<line x1="132.00" y1="827.50" x2="368.75" y2="827.50" stroke="#000" stroke-width="2.5" stroke-linecap="butt"/>
<line x1="132.00" y1="510.40" x2="141.25" y2="510.40" stroke="#000" stroke-width="2.5" stroke-linecap="butt"/>
<line x1="132.00" y1="555.70" x2="141.25" y2="555.70" stroke="#000" stroke-width="2.5" stroke-linecap="butt"/>
<line x1="132.00" y1="601.00" x2="141.25" y2="601.00" stroke="#000" stroke-width="2.5" stroke-linecap="butt"/>
<line x1="132.00" y1="646.30" x2="141.25" y2="646.30" stroke="#000" stroke-width="2.5" stroke-linecap="butt"/>
<line x1="132.00" y1="691.60" x2="141.25" y2="691.60" stroke="#000" stroke-width="2.5" stroke-linecap="butt"/>
<line x1="132.00" y1="736.90" x2="141.25" y2="736.90" stroke="#000" stroke-width="2.5" stroke-linecap="butt"/>
<line x1="132.00" y1="782.20" x2="141.25" y2="782.20" stroke="#000" stroke-width="2.5" stroke-linecap="butt"/>
<text transform="translate(67.03,519.80) scale(0.9985,1)" font-size="27.59" font-family='"Liberation Sans", Arial, sans-serif' font-weight="bold" fill="#000">1.4</text>
<text transform="translate(66.99,565.10) scale(1.0224,1)" font-size="27.59" font-family='"Liberation Sans", Arial, sans-serif' font-weight="bold" fill="#000">1.2</text>
<text transform="translate(66.97,610.40) scale(1.0348,1)" font-size="27.59" font-family='"Liberation Sans", Arial, sans-serif' font-weight="bold" fill="#000">1.0</text>
<text transform="translate(67.89,655.70) scale(0.9985,1)" font-size="27.59" font-family='"Liberation Sans", Arial, sans-serif' font-weight="bold" fill="#000">0.8</text>
<text transform="translate(67.89,701.00) scale(0.9985,1)" font-size="27.59" font-family='"Liberation Sans", Arial, sans-serif' font-weight="bold" fill="#000">0.6</text>
<text transform="translate(67.91,746.30) scale(0.9756,1)" font-size="27.59" font-family='"Liberation Sans", Arial, sans-serif' font-weight="bold" fill="#000">0.4</text>
<text transform="translate(67.89,791.60) scale(0.9985,1)" font-size="27.59" font-family='"Liberation Sans", Arial, sans-serif' font-weight="bold" fill="#000">0.2</text>
<text transform="translate(88.77,840.68) scale(0.9985,1)" font-size="27.59" font-family='"Liberation Sans", Arial, sans-serif' font-weight="bold" fill="#000">0</text>
<text transform="translate(148.43,867.60) scale(0.9290,1)" font-size="28.73" font-family='"Liberation Sans", Arial, sans-serif' font-weight="bold" fill="#000">NANOG</text>
<text transform="translate(260.58,867.60) scale(0.9007,1)" font-size="28.73" font-family='"Liberation Sans", Arial, sans-serif' font-weight="bold" fill="#000">POU5F1</text>
<rect x="491.10" y="600.85" width="29.30" height="223.80" fill="#fff" stroke="#000" stroke-width="3.2"/>
<line x1="505.75" y1="538.40" x2="505.75" y2="600.75" stroke="#606060" stroke-width="3.4" stroke-linecap="butt"/>
<line x1="499.10" y1="540.05" x2="512.40" y2="540.05" stroke="#606060" stroke-width="3.3" stroke-linecap="butt"/>
<rect x="527.00" y="649.25" width="31.00" height="177.00" fill="#000"/>
<line x1="543.00" y1="600.40" x2="543.00" y2="650.25" stroke="#606060" stroke-width="3.4" stroke-linecap="butt"/>
<line x1="536.35" y1="602.05" x2="549.65" y2="602.05" stroke="#606060" stroke-width="3.3" stroke-linecap="butt"/>
<rect x="619.60" y="600.85" width="29.30" height="223.80" fill="#fff" stroke="#000" stroke-width="3.2"/>
<line x1="634.50" y1="552.65" x2="634.50" y2="600.75" stroke="#606060" stroke-width="3.4" stroke-linecap="butt"/>
<line x1="627.85" y1="554.30" x2="641.15" y2="554.30" stroke="#606060" stroke-width="3.3" stroke-linecap="butt"/>
<rect x="654.25" y="670.75" width="32.00" height="155.50" fill="#000"/>
<line x1="670.50" y1="661.40" x2="670.50" y2="671.75" stroke="#606060" stroke-width="3.4" stroke-linecap="butt"/>
<line x1="663.85" y1="663.05" x2="677.15" y2="663.05" stroke="#606060" stroke-width="3.3" stroke-linecap="butt"/>
<rect x="747.10" y="600.85" width="29.30" height="223.80" fill="#fff" stroke="#000" stroke-width="3.2"/>
<line x1="762.00" y1="577.15" x2="762.00" y2="600.75" stroke="#606060" stroke-width="3.4" stroke-linecap="butt"/>
<line x1="755.35" y1="578.80" x2="768.65" y2="578.80" stroke="#606060" stroke-width="3.3" stroke-linecap="butt"/>
<rect x="782.50" y="603.25" width="32.00" height="223.00" fill="#000"/>
<line x1="798.75" y1="556.65" x2="798.75" y2="604.25" stroke="#606060" stroke-width="3.4" stroke-linecap="butt"/>
<line x1="792.10" y1="558.30" x2="805.40" y2="558.30" stroke="#606060" stroke-width="3.3" stroke-linecap="butt"/>
<rect x="875.85" y="600.85" width="28.80" height="223.80" fill="#fff" stroke="#000" stroke-width="3.2"/>
<line x1="890.00" y1="547.90" x2="890.00" y2="600.75" stroke="#606060" stroke-width="3.4" stroke-linecap="butt"/>
<line x1="883.35" y1="549.55" x2="896.65" y2="549.55" stroke="#606060" stroke-width="3.3" stroke-linecap="butt"/>
<rect x="910.75" y="654.00" width="31.25" height="172.25" fill="#000"/>
<line x1="926.25" y1="588.40" x2="926.25" y2="655.00" stroke="#606060" stroke-width="3.4" stroke-linecap="butt"/>
<line x1="919.60" y1="590.05" x2="932.90" y2="590.05" stroke="#606060" stroke-width="3.3" stroke-linecap="butt"/>
<line x1="460.00" y1="508.75" x2="460.00" y2="826.00" stroke="#000" stroke-width="2.5" stroke-linecap="butt"/>
<line x1="450.00" y1="824.75" x2="971.25" y2="824.75" stroke="#000" stroke-width="2.5" stroke-linecap="butt"/>
<line x1="450.00" y1="510.00" x2="460.00" y2="510.00" stroke="#000" stroke-width="2.5" stroke-linecap="butt"/>
<line x1="450.00" y1="554.96" x2="460.00" y2="554.96" stroke="#000" stroke-width="2.5" stroke-linecap="butt"/>
<line x1="450.00" y1="599.93" x2="460.00" y2="599.93" stroke="#000" stroke-width="2.5" stroke-linecap="butt"/>
<line x1="450.00" y1="644.89" x2="460.00" y2="644.89" stroke="#000" stroke-width="2.5" stroke-linecap="butt"/>
<line x1="450.00" y1="689.86" x2="460.00" y2="689.86" stroke="#000" stroke-width="2.5" stroke-linecap="butt"/>
<line x1="450.00" y1="734.82" x2="460.00" y2="734.82" stroke="#000" stroke-width="2.5" stroke-linecap="butt"/>
<line x1="450.00" y1="779.79" x2="460.00" y2="779.79" stroke="#000" stroke-width="2.5" stroke-linecap="butt"/>
<text transform="translate(385.78,519.40) scale(0.9985,1)" font-size="27.59" font-family='"Liberation Sans", Arial, sans-serif' font-weight="bold" fill="#000">1.4</text>
<text transform="translate(385.74,564.36) scale(1.0224,1)" font-size="27.59" font-family='"Liberation Sans", Arial, sans-serif' font-weight="bold" fill="#000">1.2</text>
<text transform="translate(385.72,609.33) scale(1.0348,1)" font-size="27.59" font-family='"Liberation Sans", Arial, sans-serif' font-weight="bold" fill="#000">1.0</text>
<text transform="translate(386.64,654.29) scale(0.9985,1)" font-size="27.59" font-family='"Liberation Sans", Arial, sans-serif' font-weight="bold" fill="#000">0.8</text>
<text transform="translate(386.64,699.26) scale(0.9985,1)" font-size="27.59" font-family='"Liberation Sans", Arial, sans-serif' font-weight="bold" fill="#000">0.6</text>
<text transform="translate(386.66,744.22) scale(0.9756,1)" font-size="27.59" font-family='"Liberation Sans", Arial, sans-serif' font-weight="bold" fill="#000">0.4</text>
<text transform="translate(386.64,789.19) scale(0.9985,1)" font-size="27.59" font-family='"Liberation Sans", Arial, sans-serif' font-weight="bold" fill="#000">0.2</text>
<text transform="translate(408.37,838.08) scale(0.9985,1)" font-size="27.59" font-family='"Liberation Sans", Arial, sans-serif' font-weight="bold" fill="#000">0</text>
<text transform="translate(479.24,864.60) scale(0.8961,1)" font-size="27.88" font-family='"Liberation Sans", Arial, sans-serif' font-weight="bold" fill="#000">EOMES</text>
<text transform="translate(627.09,864.60) scale(0.8169,1)" font-size="27.88" font-family='"Liberation Sans", Arial, sans-serif' font-weight="bold" fill="#000">GSC</text>
<text transform="translate(715.89,864.60) scale(0.9672,1)" font-size="26.69" font-family='"Liberation Sans", Arial, sans-serif' font-weight="bold" fill="#000">Brachyury</text>
<text transform="translate(867.84,864.60) scale(0.9541,1)" font-size="27.88" font-family='"Liberation Sans", Arial, sans-serif' font-weight="bold" fill="#000">MIXL1</text>
<text transform="translate(442.04,440.60) scale(1.0168,1)" font-size="32.43" font-family='"Liberation Sans", Arial, sans-serif' font-weight="bold" fill="#000">Day 2</text>
<text transform="translate(29.90,1368.46) rotate(-90) scale(0.9250,1)" font-size="30.50" font-family='"Liberation Sans", Arial, sans-serif' font-weight="bold" fill="#000">Relative gene expression</text>
<rect x="169.60" y="1260.35" width="25.05" height="111.05" fill="#fff" stroke="#000" stroke-width="3.2"/>
<line x1="181.75" y1="1251.40" x2="181.75" y2="1260.25" stroke="#606060" stroke-width="3.4" stroke-linecap="butt"/>
<line x1="175.10" y1="1253.05" x2="188.40" y2="1253.05" stroke="#606060" stroke-width="3.3" stroke-linecap="butt"/>
<rect x="199.25" y="1194.50" width="28.25" height="178.50" fill="#000"/>
<line x1="213.25" y1="1167.90" x2="213.25" y2="1195.50" stroke="#606060" stroke-width="3.4" stroke-linecap="butt"/>
<line x1="206.60" y1="1169.55" x2="219.90" y2="1169.55" stroke="#606060" stroke-width="3.3" stroke-linecap="butt"/>
<rect x="282.10" y="1260.35" width="26.30" height="111.05" fill="#fff" stroke="#000" stroke-width="3.2"/>
<line x1="295.50" y1="1251.40" x2="295.50" y2="1260.25" stroke="#606060" stroke-width="3.4" stroke-linecap="butt"/>
<line x1="288.85" y1="1253.05" x2="302.15" y2="1253.05" stroke="#606060" stroke-width="3.3" stroke-linecap="butt"/>
<rect x="313.75" y="1133.25" width="28.75" height="239.75" fill="#000"/>
<line x1="328.75" y1="1091.65" x2="328.75" y2="1134.25" stroke="#606060" stroke-width="3.4" stroke-linecap="butt"/>
<line x1="322.10" y1="1093.30" x2="335.40" y2="1093.30" stroke="#606060" stroke-width="3.3" stroke-linecap="butt"/>
<line x1="141.25" y1="1036.75" x2="141.25" y2="1372.75" stroke="#000" stroke-width="2.5" stroke-linecap="butt"/>
<line x1="132.00" y1="1371.50" x2="368.75" y2="1371.50" stroke="#000" stroke-width="2.5" stroke-linecap="butt"/>
<line x1="132.00" y1="1038.00" x2="141.25" y2="1038.00" stroke="#000" stroke-width="2.5" stroke-linecap="butt"/>
<line x1="132.00" y1="1093.58" x2="141.25" y2="1093.58" stroke="#000" stroke-width="2.5" stroke-linecap="butt"/>
<line x1="132.00" y1="1149.17" x2="141.25" y2="1149.17" stroke="#000" stroke-width="2.5" stroke-linecap="butt"/>
<line x1="132.00" y1="1204.75" x2="141.25" y2="1204.75" stroke="#000" stroke-width="2.5" stroke-linecap="butt"/>
<line x1="132.00" y1="1260.33" x2="141.25" y2="1260.33" stroke="#000" stroke-width="2.5" stroke-linecap="butt"/>
<line x1="132.00" y1="1315.92" x2="141.25" y2="1315.92" stroke="#000" stroke-width="2.5" stroke-linecap="butt"/>
<text transform="translate(67.56,1047.40) scale(1.0189,1)" font-size="27.59" font-family='"Liberation Sans", Arial, sans-serif' font-weight="bold" fill="#000">3.0</text>
<text transform="translate(67.12,1102.98) scale(1.0189,1)" font-size="27.59" font-family='"Liberation Sans", Arial, sans-serif' font-weight="bold" fill="#000">2.5</text>
<text transform="translate(67.11,1158.57) scale(1.0309,1)" font-size="27.59" font-family='"Liberation Sans", Arial, sans-serif' font-weight="bold" fill="#000">2.0</text>
<text transform="translate(66.20,1214.15) scale(1.0433,1)" font-size="27.59" font-family='"Liberation Sans", Arial, sans-serif' font-weight="bold" fill="#000">1.5</text>
<text transform="translate(66.18,1269.73) scale(1.0560,1)" font-size="27.59" font-family='"Liberation Sans", Arial, sans-serif' font-weight="bold" fill="#000">1.0</text>
<text transform="translate(67.12,1325.32) scale(1.0189,1)" font-size="27.59" font-family='"Liberation Sans", Arial, sans-serif' font-weight="bold" fill="#000">0.5</text>
<text transform="translate(86.71,1380.48) scale(1.0189,1)" font-size="27.59" font-family='"Liberation Sans", Arial, sans-serif' font-weight="bold" fill="#000">0</text>
<text transform="translate(148.43,1412.10) scale(0.8979,1)" font-size="29.72" font-family='"Liberation Sans", Arial, sans-serif' font-weight="bold" fill="#000">NANOG</text>
<text transform="translate(260.58,1412.10) scale(0.8705,1)" font-size="29.72" font-family='"Liberation Sans", Arial, sans-serif' font-weight="bold" fill="#000">POU5F1</text>
<text transform="translate(205.60,1152.84) scale(1.1813,1)" font-size="35.33" font-family='"Liberation Sans", Arial, sans-serif' font-weight="normal" fill="#000">*</text>
<text transform="translate(310.54,1081.44) scale(1.1833,1)" font-size="38.67" font-family='"Liberation Sans", Arial, sans-serif' font-weight="normal" fill="#000">**</text>
<rect x="491.10" y="1159.10" width="29.30" height="210.80" fill="#fff" stroke="#000" stroke-width="3.2"/>
<line x1="505.75" y1="1137.65" x2="505.75" y2="1159.00" stroke="#606060" stroke-width="3.4" stroke-linecap="butt"/>
<line x1="499.10" y1="1139.30" x2="512.40" y2="1139.30" stroke="#606060" stroke-width="3.3" stroke-linecap="butt"/>
<rect x="527.00" y="1214.50" width="31.00" height="157.00" fill="#000"/>
<line x1="543.00" y1="1187.90" x2="543.00" y2="1215.50" stroke="#606060" stroke-width="3.4" stroke-linecap="butt"/>
<line x1="536.35" y1="1189.55" x2="549.65" y2="1189.55" stroke="#606060" stroke-width="3.3" stroke-linecap="butt"/>
<rect x="619.60" y="1159.10" width="29.30" height="210.80" fill="#fff" stroke="#000" stroke-width="3.2"/>
<line x1="634.50" y1="1122.65" x2="634.50" y2="1159.00" stroke="#606060" stroke-width="3.4" stroke-linecap="butt"/>
<line x1="627.85" y1="1124.30" x2="641.15" y2="1124.30" stroke="#606060" stroke-width="3.3" stroke-linecap="butt"/>
<rect x="654.25" y="1083.00" width="32.00" height="288.50" fill="#000"/>
<line x1="670.50" y1="1067.15" x2="670.50" y2="1084.00" stroke="#606060" stroke-width="3.4" stroke-linecap="butt"/>
<line x1="663.85" y1="1068.80" x2="677.15" y2="1068.80" stroke="#606060" stroke-width="3.3" stroke-linecap="butt"/>
<rect x="747.10" y="1159.10" width="29.30" height="210.80" fill="#fff" stroke="#000" stroke-width="3.2"/>
<line x1="762.00" y1="1085.40" x2="762.00" y2="1159.00" stroke="#606060" stroke-width="3.4" stroke-linecap="butt"/>
<line x1="755.35" y1="1087.05" x2="768.65" y2="1087.05" stroke="#606060" stroke-width="3.3" stroke-linecap="butt"/>
<rect x="782.50" y="1328.75" width="32.00" height="42.75" fill="#000"/>
<line x1="798.75" y1="1323.90" x2="798.75" y2="1329.75" stroke="#606060" stroke-width="3.4" stroke-linecap="butt"/>
<line x1="792.10" y1="1325.55" x2="805.40" y2="1325.55" stroke="#606060" stroke-width="3.3" stroke-linecap="butt"/>
<rect x="875.85" y="1159.10" width="28.80" height="210.80" fill="#fff" stroke="#000" stroke-width="3.2"/>
<line x1="890.00" y1="1147.90" x2="890.00" y2="1159.00" stroke="#606060" stroke-width="3.4" stroke-linecap="butt"/>
<line x1="883.35" y1="1149.55" x2="896.65" y2="1149.55" stroke="#606060" stroke-width="3.3" stroke-linecap="butt"/>
<rect x="910.75" y="1211.75" width="31.25" height="159.75" fill="#000"/>
<line x1="926.25" y1="1203.40" x2="926.25" y2="1212.75" stroke="#606060" stroke-width="3.4" stroke-linecap="butt"/>
<line x1="919.60" y1="1205.05" x2="932.90" y2="1205.05" stroke="#606060" stroke-width="3.3" stroke-linecap="butt"/>
<line x1="460.00" y1="1053.00" x2="460.00" y2="1371.25" stroke="#000" stroke-width="2.5" stroke-linecap="butt"/>
<line x1="450.00" y1="1370.00" x2="971.25" y2="1370.00" stroke="#000" stroke-width="2.5" stroke-linecap="butt"/>
<line x1="450.00" y1="1054.25" x2="460.00" y2="1054.25" stroke="#000" stroke-width="2.5" stroke-linecap="butt"/>
<line x1="450.00" y1="1159.50" x2="460.00" y2="1159.50" stroke="#000" stroke-width="2.5" stroke-linecap="butt"/>
<line x1="450.00" y1="1264.75" x2="460.00" y2="1264.75" stroke="#000" stroke-width="2.5" stroke-linecap="butt"/>
<text transform="translate(385.74,1063.65) scale(1.0224,1)" font-size="27.59" font-family='"Liberation Sans", Arial, sans-serif' font-weight="bold" fill="#000">1.5</text>
<text transform="translate(385.72,1168.90) scale(1.0348,1)" font-size="27.59" font-family='"Liberation Sans", Arial, sans-serif' font-weight="bold" fill="#000">1.0</text>
<text transform="translate(386.64,1274.15) scale(0.9985,1)" font-size="27.59" font-family='"Liberation Sans", Arial, sans-serif' font-weight="bold" fill="#000">0.5</text>
<text transform="translate(405.79,1378.98) scale(1.0224,1)" font-size="27.59" font-family='"Liberation Sans", Arial, sans-serif' font-weight="bold" fill="#000">0</text>
<text transform="translate(479.24,1408.35) scale(0.9196,1)" font-size="27.16" font-family='"Liberation Sans", Arial, sans-serif' font-weight="bold" fill="#000">EOMES</text>
<text transform="translate(627.09,1408.35) scale(0.8383,1)" font-size="27.16" font-family='"Liberation Sans", Arial, sans-serif' font-weight="bold" fill="#000">GSC</text>
<text transform="translate(715.89,1408.35) scale(0.9925,1)" font-size="26.01" font-family='"Liberation Sans", Arial, sans-serif' font-weight="bold" fill="#000">Brachyury</text>
<text transform="translate(867.84,1408.35) scale(0.9791,1)" font-size="27.16" font-family='"Liberation Sans", Arial, sans-serif' font-weight="bold" fill="#000">MIXL1</text>
<text transform="translate(533.13,1177.03) scale(1.0814,1)" font-size="36.67" font-family='"Liberation Sans", Arial, sans-serif' font-weight="normal" fill="#000">*</text>
<text transform="translate(663.15,1056.06) scale(1.0628,1)" font-size="36.00" font-family='"Liberation Sans", Arial, sans-serif' font-weight="normal" fill="#000">*</text>
<text transform="translate(789.89,1309.38) scale(1.1237,1)" font-size="34.67" font-family='"Liberation Sans", Arial, sans-serif' font-weight="normal" fill="#000">*</text>
<text transform="translate(911.81,1177.31) scale(1.2339,1)" font-size="36.00" font-family='"Liberation Sans", Arial, sans-serif' font-weight="normal" fill="#000">**</text>
<text transform="translate(421.15,967.60) scale(1.0207,1)" font-size="32.14" font-family='"Liberation Sans", Arial, sans-serif' font-weight="bold" fill="#000">Day 4</text>
<rect x="590.00" y="1453.30" width="16.70" height="17.60" fill="#fff" stroke="#000" stroke-width="3.2"/>
<text transform="translate(614.48,1471.50) scale(0.9232,1)" font-size="28.32" font-family='"Liberation Sans", Arial, sans-serif' font-weight="bold" fill="#000">dox -</text>
<rect x="696.90" y="1451.70" width="21.20" height="20.80" fill="#000"/>
<text transform="translate(724.10,1471.50) scale(0.9049,1)" font-size="28.32" font-family='"Liberation Sans", Arial, sans-serif' font-weight="bold" fill="#000">dox +</text>
<text transform="translate(1014.54,1042.70) scale(0.9276,1)" font-size="51.06" font-family='"Liberation Sans", Arial, sans-serif' font-weight="bold" fill="#000">D</text>
<text transform="translate(1277.11,1067.10) scale(0.9813,1)" font-size="32.14" font-family='"Liberation Sans", Arial, sans-serif' font-weight="bold" fill="#000">dox -</text>
<text transform="translate(1460.22,1067.10) scale(0.9778,1)" font-size="32.14" font-family='"Liberation Sans", Arial, sans-serif' font-weight="bold" fill="#000">dox +</text>
<line x1="1218.75" y1="1082.00" x2="1395.60" y2="1082.00" stroke="#000" stroke-width="2.5" stroke-linecap="butt"/>
<line x1="1418.80" y1="1082.00" x2="1587.50" y2="1082.00" stroke="#000" stroke-width="2.5" stroke-linecap="butt"/>
<text transform="translate(1034.99,1145.80) scale(1.0440,1)" font-size="29.30" font-family='"Liberation Sans", Arial, sans-serif' font-weight="bold" fill="#000">pSMAD1/5</text>
<text transform="translate(1084.75,1221.70) scale(0.9894,1)" font-size="29.30" font-family='"Liberation Sans", Arial, sans-serif' font-weight="bold" fill="#000">SMAD1</text>
<text transform="translate(1085.32,1299.70) scale(0.9644,1)" font-size="29.30" font-family='"Liberation Sans", Arial, sans-serif' font-weight="bold" fill="#000">GAPDH</text>
<clipPath id="cp0"><rect x="1202.0" y="1095.0" width="401.20000000000005" height="70.59999999999991"/></clipPath>
<rect x="1202.00" y="1095.00" width="401.20" height="70.60" fill="#ededed"/>
<clipPath id="cp1"><rect x="1202.0" y="1173.0" width="401.20000000000005" height="67.59999999999991"/></clipPath>
<rect x="1202.00" y="1173.00" width="401.20" height="67.60" fill="#e7e7e7"/>
<clipPath id="cp2"><rect x="1202.0" y="1248.8" width="401.20000000000005" height="71.40000000000009"/></clipPath>
<rect x="1202.00" y="1248.80" width="401.20" height="71.40" fill="#ececec"/>
<rect clip-path="url(#cp0)" x="1214.0" y="1120.5" width="62.0" height="16.5" rx="3" fill="#1c1c1c" opacity="0.6072000000000001" filter="url(#b4)"/>
<rect clip-path="url(#cp0)" x="1215.0" y="1131.0" width="60.0" height="11.0" rx="3" fill="#1c1c1c" opacity="0.1452" filter="url(#b4)"/>
<rect clip-path="url(#cp0)" x="1291.0" y="1120.5" width="53.0" height="16.5" rx="3" fill="#1c1c1c" opacity="0.47840000000000005" filter="url(#b4)"/>
<rect clip-path="url(#cp0)" x="1292.0" y="1131.0" width="51.0" height="11.0" rx="3" fill="#1c1c1c" opacity="0.1144" filter="url(#b4)"/>
<rect clip-path="url(#cp0)" x="1359.0" y="1120.5" width="50.0" height="16.5" rx="3" fill="#1c1c1c" opacity="0.46" filter="url(#b4)"/>
<rect clip-path="url(#cp0)" x="1360.0" y="1131.0" width="48.0" height="11.0" rx="3" fill="#1c1c1c" opacity="0.11" filter="url(#b4)"/>
<rect clip-path="url(#cp0)" x="1422.0" y="1120.5" width="51.0" height="16.5" rx="3" fill="#1c1c1c" opacity="0.18400000000000002" filter="url(#b4)"/>
<rect clip-path="url(#cp0)" x="1423.0" y="1131.0" width="49.0" height="11.0" rx="3" fill="#1c1c1c" opacity="0.044000000000000004" filter="url(#b4)"/>
<rect clip-path="url(#cp0)" x="1487.0" y="1120.5" width="41.0" height="16.5" rx="3" fill="#1c1c1c" opacity="0.0736" filter="url(#b4)"/>
<rect clip-path="url(#cp0)" x="1488.0" y="1131.0" width="39.0" height="11.0" rx="3" fill="#1c1c1c" opacity="0.0176" filter="url(#b4)"/>
<rect clip-path="url(#cp0)" x="1546.0" y="1120.5" width="48.0" height="16.5" rx="3" fill="#1c1c1c" opacity="0.18400000000000002" filter="url(#b4)"/>
<rect clip-path="url(#cp0)" x="1547.0" y="1131.0" width="46.0" height="11.0" rx="3" fill="#1c1c1c" opacity="0.044000000000000004" filter="url(#b4)"/>
<rect clip-path="url(#cp0)" x="1215.0" y="1119.5" width="31.0" height="7.0" rx="3" fill="#000" opacity="0.8" filter="url(#b5)"/>
<rect clip-path="url(#cp0)" x="1244.0" y="1120.5" width="31.0" height="6.5" rx="3" fill="#000" opacity="0.35" filter="url(#b5)"/>
<rect clip-path="url(#cp0)" x="1292.0" y="1120.5" width="51.0" height="5.0" rx="3" fill="#000" opacity="0.2" filter="url(#b5)"/>
<rect clip-path="url(#cp0)" x="1360.0" y="1120.5" width="48.0" height="5.0" rx="3" fill="#000" opacity="0.32" filter="url(#b5)"/>
<rect clip-path="url(#cp0)" x="1424.0" y="1122.0" width="47.0" height="5.0" rx="3" fill="#000" opacity="0.05" filter="url(#b5)"/>
<rect clip-path="url(#cp0)" x="1500.0" y="1121.0" width="22.0" height="4.0" rx="3" fill="#000" opacity="0.08" filter="url(#b5)"/>
<rect clip-path="url(#cp0)" x="1549.0" y="1121.0" width="43.0" height="5.0" rx="3" fill="#000" opacity="0.08" filter="url(#b5)"/>
<rect clip-path="url(#cp1)" x="1285.0" y="1212.0" width="65.0" height="38.0" rx="3" fill="#888" opacity="0.28" filter="url(#b6)"/>
<rect clip-path="url(#cp1)" x="1400.0" y="1218.0" width="220.0" height="37.0" rx="3" fill="#999" opacity="0.3" filter="url(#b6)"/>
<rect clip-path="url(#cp1)" x="1213.0" y="1197.8" width="64.0" height="24.0" rx="3" fill="#444" opacity="0.36" filter="url(#b4)"/>
<rect clip-path="url(#cp1)" x="1213.0" y="1201.8" width="64.0" height="8.5" rx="3" fill="#0c0c0c" opacity="0.92" filter="url(#b5)"/>
<rect clip-path="url(#cp1)" x="1213.0" y="1211.8" width="64.0" height="6.0" rx="3" fill="#2a2a2a" opacity="0.46" filter="url(#b5)"/>
<rect clip-path="url(#cp1)" x="1290.0" y="1198.3" width="55.0" height="24.0" rx="3" fill="#444" opacity="0.36" filter="url(#b4)"/>
<rect clip-path="url(#cp1)" x="1290.0" y="1202.3" width="55.0" height="8.5" rx="3" fill="#0c0c0c" opacity="0.66" filter="url(#b5)"/>
<rect clip-path="url(#cp1)" x="1290.0" y="1212.3" width="55.0" height="6.0" rx="3" fill="#2a2a2a" opacity="0.33" filter="url(#b5)"/>
<rect clip-path="url(#cp1)" x="1358.0" y="1200.3" width="52.0" height="24.0" rx="3" fill="#444" opacity="0.36" filter="url(#b4)"/>
<rect clip-path="url(#cp1)" x="1358.0" y="1204.3" width="52.0" height="8.5" rx="3" fill="#0c0c0c" opacity="0.8" filter="url(#b5)"/>
<rect clip-path="url(#cp1)" x="1358.0" y="1214.3" width="52.0" height="6.0" rx="3" fill="#2a2a2a" opacity="0.4" filter="url(#b5)"/>
<rect clip-path="url(#cp1)" x="1421.0" y="1202.6" width="53.0" height="24.0" rx="3" fill="#444" opacity="0.36" filter="url(#b4)"/>
<rect clip-path="url(#cp1)" x="1421.0" y="1206.6" width="53.0" height="8.5" rx="3" fill="#0c0c0c" opacity="0.68" filter="url(#b5)"/>
<rect clip-path="url(#cp1)" x="1421.0" y="1216.6" width="53.0" height="6.0" rx="3" fill="#2a2a2a" opacity="0.34" filter="url(#b5)"/>
<rect clip-path="url(#cp1)" x="1486.0" y="1202.6" width="43.0" height="24.0" rx="3" fill="#444" opacity="0.36" filter="url(#b4)"/>
<rect clip-path="url(#cp1)" x="1486.0" y="1206.6" width="43.0" height="8.5" rx="3" fill="#0c0c0c" opacity="0.8" filter="url(#b5)"/>
<rect clip-path="url(#cp1)" x="1486.0" y="1216.6" width="43.0" height="6.0" rx="3" fill="#2a2a2a" opacity="0.4" filter="url(#b5)"/>
<rect clip-path="url(#cp1)" x="1545.0" y="1204.0" width="50.0" height="24.0" rx="3" fill="#444" opacity="0.36" filter="url(#b4)"/>
<rect clip-path="url(#cp1)" x="1545.0" y="1208.0" width="50.0" height="8.5" rx="3" fill="#0c0c0c" opacity="0.93" filter="url(#b5)"/>
<rect clip-path="url(#cp1)" x="1545.0" y="1218.0" width="50.0" height="6.0" rx="3" fill="#2a2a2a" opacity="0.465" filter="url(#b5)"/>
<rect clip-path="url(#cp1)" x="1292.0" y="1200.5" width="27.0" height="10.5" rx="3" fill="#000" opacity="0.85" filter="url(#b5)"/>
<rect clip-path="url(#cp1)" x="1255.0" y="1201.5" width="22.0" height="7.0" rx="3" fill="#000" opacity="0.4" filter="url(#b5)"/>
<rect clip-path="url(#cp1)" x="1498.0" y="1206.0" width="22.0" height="7.0" rx="3" fill="#000" opacity="0.45" filter="url(#b5)"/>
<rect clip-path="url(#cp1)" x="1565.0" y="1208.5" width="29.0" height="6.5" rx="3" fill="#000" opacity="0.45" filter="url(#b5)"/>
<rect clip-path="url(#cp1)" x="1495.0" y="1185.0" width="35.0" height="6.0" rx="3" fill="#000" opacity="0.07" filter="url(#b4)"/>
<rect clip-path="url(#cp1)" x="1215.0" y="1183.0" width="60.0" height="5.0" rx="3" fill="#000" opacity="0.04" filter="url(#b4)"/>
<rect clip-path="url(#cp2)" x="1213.0" y="1276.1" width="65.0" height="6.6" rx="3" fill="#2a2a2a" opacity="0.7" filter="url(#b2)" transform="rotate(1.3 1245.5 1279.4)"/>
<rect clip-path="url(#cp2)" x="1292.0" y="1279.6" width="55.0" height="6.6" rx="3" fill="#2a2a2a" opacity="0.7" filter="url(#b2)" transform="rotate(0.4 1319.5 1282.9)"/>
<rect clip-path="url(#cp2)" x="1359.0" y="1281.1" width="53.0" height="6.6" rx="3" fill="#2a2a2a" opacity="0.7" filter="url(#b2)" transform="rotate(0.3 1385.5 1284.4)"/>
<rect clip-path="url(#cp2)" x="1423.0" y="1282.4" width="53.0" height="6.6" rx="3" fill="#2a2a2a" opacity="0.7" filter="url(#b2)" transform="rotate(0.3 1449.5 1285.7)"/>
<rect clip-path="url(#cp2)" x="1490.0" y="1282.4" width="45.0" height="6.6" rx="3" fill="#2a2a2a" opacity="0.7" filter="url(#b2)" transform="rotate(0.2 1512.5 1285.7)"/>
<rect clip-path="url(#cp2)" x="1549.0" y="1283.4" width="47.0" height="6.6" rx="3" fill="#2a2a2a" opacity="0.7" filter="url(#b2)" transform="rotate(0.8 1572.5 1286.7)"/>
<rect x="1202.80" y="1095.80" width="399.60" height="69.00" fill="none" stroke="#2a2a2a" stroke-width="1.6"/>
<rect x="1202.80" y="1173.80" width="399.60" height="66.00" fill="none" stroke="#2a2a2a" stroke-width="1.6"/>
<rect x="1202.80" y="1249.60" width="399.60" height="69.80" fill="none" stroke="#2a2a2a" stroke-width="1.6"/>
<text transform="translate(1661.10,1306.01) rotate(-90) scale(0.9877,1)" font-size="27.65" font-family='"Liberation Sans", Arial, sans-serif' font-weight="bold" fill="#000">Relative pSMAD1/5</text>
<text transform="translate(1698.60,1246.70) rotate(-90) scale(0.9221,1)" font-size="27.65" font-family='"Liberation Sans", Arial, sans-serif' font-weight="bold" fill="#000">expression</text>
<rect x="1829.90" y="1132.60" width="31.70" height="186.70" fill="#fff" stroke="#000" stroke-width="3.2"/>
<rect x="1931.80" y="1264.50" width="34.60" height="56.40" fill="#000"/>
<line x1="1949.80" y1="1249.80" x2="1949.80" y2="1265.50" stroke="#606060" stroke-width="2.8" stroke-linecap="butt"/>
<line x1="1945.70" y1="1251.30" x2="1953.90" y2="1251.30" stroke="#606060" stroke-width="3.0" stroke-linecap="butt"/>
<line x1="1794.50" y1="1057.50" x2="1794.50" y2="1320.65" stroke="#000" stroke-width="2.5" stroke-linecap="butt"/>
<line x1="1785.00" y1="1319.40" x2="2001.25" y2="1319.40" stroke="#000" stroke-width="2.5" stroke-linecap="butt"/>
<line x1="1785.00" y1="1058.75" x2="1794.50" y2="1058.75" stroke="#000" stroke-width="2.5" stroke-linecap="butt"/>
<line x1="1785.00" y1="1095.99" x2="1794.50" y2="1095.99" stroke="#000" stroke-width="2.5" stroke-linecap="butt"/>
<line x1="1785.00" y1="1133.22" x2="1794.50" y2="1133.22" stroke="#000" stroke-width="2.5" stroke-linecap="butt"/>
<line x1="1785.00" y1="1170.46" x2="1794.50" y2="1170.46" stroke="#000" stroke-width="2.5" stroke-linecap="butt"/>
<line x1="1785.00" y1="1207.69" x2="1794.50" y2="1207.69" stroke="#000" stroke-width="2.5" stroke-linecap="butt"/>
<line x1="1785.00" y1="1244.93" x2="1794.50" y2="1244.93" stroke="#000" stroke-width="2.5" stroke-linecap="butt"/>
<line x1="1785.00" y1="1282.16" x2="1794.50" y2="1282.16" stroke="#000" stroke-width="2.5" stroke-linecap="butt"/>
<text transform="translate(1722.86,1067.25) scale(1.0602,1)" font-size="24.75" font-family='"Liberation Sans", Arial, sans-serif' font-weight="bold" fill="#000">1.4</text>
<text transform="translate(1722.82,1104.49) scale(1.0857,1)" font-size="24.75" font-family='"Liberation Sans", Arial, sans-serif' font-weight="bold" fill="#000">1.2</text>
<text transform="translate(1722.80,1141.72) scale(1.0988,1)" font-size="24.75" font-family='"Liberation Sans", Arial, sans-serif' font-weight="bold" fill="#000">1.0</text>
<text transform="translate(1723.68,1178.96) scale(1.0602,1)" font-size="24.75" font-family='"Liberation Sans", Arial, sans-serif' font-weight="bold" fill="#000">0.8</text>
<text transform="translate(1723.68,1216.19) scale(1.0602,1)" font-size="24.75" font-family='"Liberation Sans", Arial, sans-serif' font-weight="bold" fill="#000">0.6</text>
<text transform="translate(1723.70,1253.43) scale(1.0360,1)" font-size="24.75" font-family='"Liberation Sans", Arial, sans-serif' font-weight="bold" fill="#000">0.4</text>
<text transform="translate(1723.68,1290.66) scale(1.0602,1)" font-size="24.75" font-family='"Liberation Sans", Arial, sans-serif' font-weight="bold" fill="#000">0.2</text>
<text transform="translate(1742.03,1331.31) scale(1.0602,1)" font-size="24.75" font-family='"Liberation Sans", Arial, sans-serif' font-weight="bold" fill="#000">0</text>
<text transform="translate(1808.12,1364.50) scale(1.0014,1)" font-size="31.32" font-family='"Liberation Sans", Arial, sans-serif' font-weight="bold" fill="#000">dox -</text>
<text transform="translate(1908.13,1364.50) scale(0.9884,1)" font-size="31.32" font-family='"Liberation Sans", Arial, sans-serif' font-weight="bold" fill="#000">dox +</text>
<line x1="1846.10" y1="1080.90" x2="1846.10" y2="1131.50" stroke="#606060" stroke-width="2.8" stroke-linecap="butt"/>
<line x1="1842.00" y1="1082.40" x2="1850.20" y2="1082.40" stroke="#606060" stroke-width="3.0" stroke-linecap="butt"/>
<text transform="translate(1943.94,1223.30) scale(1.0435,1)" font-size="34.13" font-family='"Liberation Sans", Arial, sans-serif' font-weight="normal" fill="#000">*</text>
</g>
</svg>
</body></html>
